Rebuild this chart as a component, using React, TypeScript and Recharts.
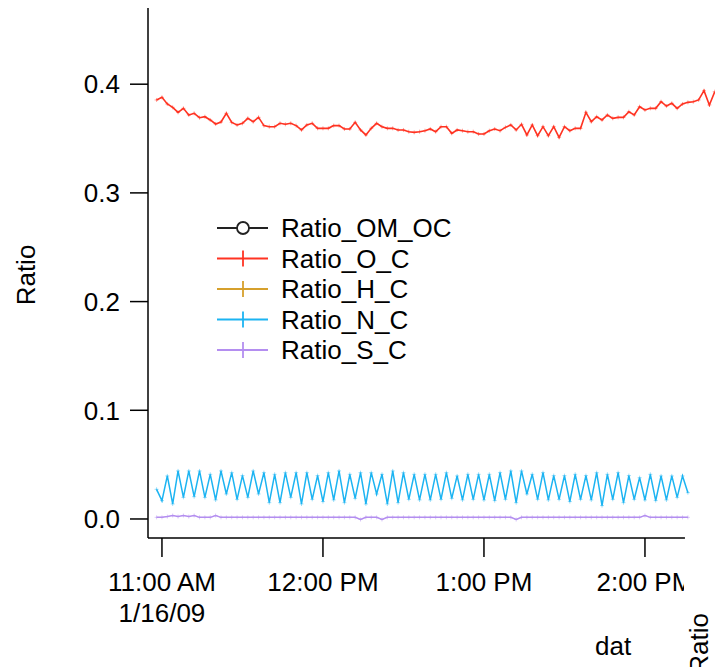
import React from "react";
import { LineChart, Line, XAxis, YAxis, Legend, ReferenceLine } from "recharts";

// minutes after 11:00 AM 1/16/09, sampled every 2 min
const START_MIN = -2;
const STEP_MIN = 2;

const ratioOC = [
  0.3855, 0.3879, 0.3818, 0.3787, 0.3741, 0.3778, 0.3717, 0.3732, 0.3692, 0.3701,
  0.3671, 0.3634, 0.3652, 0.3732, 0.3649, 0.3625, 0.364, 0.3686, 0.3655, 0.3695,
  0.3619, 0.3609, 0.3609, 0.364, 0.3631, 0.364, 0.3619, 0.3579, 0.3625, 0.364,
  0.3594, 0.3594, 0.3594, 0.3619, 0.3619, 0.3588, 0.3588, 0.3649, 0.3579, 0.3533,
  0.3594, 0.364, 0.3609, 0.3594, 0.3594, 0.3579, 0.3579, 0.3563, 0.3557, 0.3563,
  0.3572, 0.3588, 0.3563, 0.3609, 0.3609, 0.3548, 0.3579, 0.3572, 0.3563, 0.3563,
  0.3542, 0.3542, 0.3572, 0.3588, 0.3572, 0.3603, 0.3625, 0.3579, 0.3631, 0.3533,
  0.3625, 0.3526, 0.3609, 0.3526, 0.3609, 0.3511, 0.3609, 0.3572, 0.3594, 0.3594,
  0.3741, 0.3655, 0.3701, 0.3671, 0.3717, 0.3686, 0.3695, 0.3695, 0.3747, 0.3717,
  0.3793, 0.3763, 0.3778, 0.3778, 0.3839, 0.3799, 0.3824, 0.3778, 0.3818, 0.3833,
  0.3839, 0.3855, 0.394, 0.3809, 0.3931,
];

const ratioNC = [
  0.0273, 0.0169, 0.0396, 0.0138, 0.0442, 0.0199, 0.0442, 0.0205, 0.0442, 0.0199,
  0.0411, 0.0175, 0.0442, 0.023, 0.0426, 0.0181, 0.0399, 0.0199, 0.0442, 0.023,
  0.0426, 0.015, 0.0411, 0.015, 0.0426, 0.0199, 0.0426, 0.0138, 0.0426, 0.0181,
  0.0399, 0.016, 0.0426, 0.0175, 0.0442, 0.015, 0.0411, 0.019, 0.0426, 0.0138,
  0.0426, 0.023, 0.0411, 0.0138, 0.0442, 0.015, 0.0426, 0.0181, 0.0411, 0.0175,
  0.0411, 0.0175, 0.0411, 0.0181, 0.0426, 0.019, 0.0396, 0.0175, 0.0411, 0.0181,
  0.0411, 0.0175, 0.0411, 0.0169, 0.0426, 0.0181, 0.0442, 0.015, 0.0442, 0.023,
  0.0411, 0.0181, 0.0426, 0.0175, 0.0399, 0.0181, 0.0399, 0.016, 0.0411, 0.0181,
  0.0399, 0.0175, 0.0426, 0.0123, 0.0411, 0.0181, 0.0426, 0.015, 0.0399, 0.0181,
  0.038, 0.0175, 0.0411, 0.0169, 0.0396, 0.0175, 0.0396, 0.0199, 0.0396, 0.0242,
];

const ratioSC = [
  0.0015, 0.0015, 0.0022, 0.0032, 0.0022, 0.0032, 0.0022, 0.0032, 0.0015, 0.0015,
  0.0015, 0.0032, 0.0015, 0.0015, 0.0015, 0.0015, 0.0015, 0.0015, 0.0015, 0.0015,
  0.0015, 0.0015, 0.0015, 0.0015, 0.0015, 0.0015, 0.0015, 0.0015, 0.0015, 0.0015,
  0.0015, 0.0015, 0.0015, 0.0015, 0.0015, 0.0015, 0.0015, 0.0015, -0.0005, 0.0015,
  0.0015, 0.0015, -0.0005, 0.0015, 0.0015, 0.0015, 0.0015, 0.0015, 0.0015, 0.0015,
  0.0015, 0.0015, 0.0015, 0.0015, 0.0015, 0.0015, 0.0015, 0.0015, 0.0015, 0.0015,
  0.0015, 0.0015, 0.0015, 0.0015, 0.0015, 0.0015, 0.0015, -0.0005, 0.0015, 0.0015,
  0.0015, 0.0015, 0.0015, 0.0015, 0.0015, 0.0015, 0.0015, 0.0015, 0.0015, 0.0015,
  0.0015, 0.0015, 0.0015, 0.0015, 0.0015, 0.0015, 0.0015, 0.0015, 0.0015, 0.0015,
  0.0015, 0.0032, 0.0015, 0.0015, 0.0015, 0.0015, 0.0015, 0.0015, 0.0015, 0.0015,
];

const tickMinutes = [0, 60, 120, 180];
const tickLabels = ["11:00 AM", "12:00 PM", "1:00 PM", "2:00 PM"];
const dateLabel = "1/16/09";
const yTicks = [0, 0.1, 0.2, 0.3, 0.4];

const legendItems = [
  { name: "Ratio_OM_OC", color: "#222222", marker: "circle" },
  { name: "Ratio_O_C", color: "#ff3322", marker: "plus" },
  { name: "Ratio_H_C", color: "#d6a02c", marker: "plus" },
  { name: "Ratio_N_C", color: "#1cb4f2", marker: "plus" },
  { name: "Ratio_S_C", color: "#b48ef0", marker: "plus" },
];

const X_DOMAIN: [number, number] = [-5.2, 206.1];
const X_AXIS_END = 194.9;
const Y_DOMAIN: [number, number] = [-0.0175, 0.4701];

const FONT = '"Liberation Sans", Arial, Helvetica, sans-serif';
const FS = 26;

const data = ratioOC.map((v, i) => ({
  t: START_MIN + i * STEP_MIN,
  oc: v,
  nc: ratioNC[i],
  sc: ratioSC[i],
}));

function PlusDot(props: any) {
  const { cx, cy, stroke } = props;
  if (cx == null || cy == null) {return null;}
  return (
    <path
      d={`M${cx - 2},${cy}H${cx + 2}M${cx},${cy - 2}V${cy + 2}`}
      stroke={stroke}
      strokeWidth={1}
      strokeOpacity={0.45}
      fill="none"
    />
  );
}

function TimeTick(props: any) {
  const { x, y, payload } = props;
  const i = tickMinutes.indexOf(payload.value);
  const clipId = `xtick-clip-${i}`;
  return (
    <g>
      <defs>
        <clipPath id={clipId}>
          <rect x={0} y={0} width={684} height={667} />
        </clipPath>
      </defs>
      <g clipPath={`url(#${clipId})`}>
        <text x={x} y={y + 32} textAnchor="middle" fill="#000" fontSize={FS} fontFamily={FONT}>
          {tickLabels[i]}
        </text>
        {i === 0 && (
          <text x={x} y={y + 63} textAnchor="middle" fill="#000" fontSize={FS} fontFamily={FONT}>
            {dateLabel}
          </text>
        )}
      </g>
    </g>
  );
}

function LegendBox() {
  return (
    <svg width={270} height={160}>
      {legendItems.map((item, i) => {
        const cy = 20 + i * 30.5;
        return (
          <g key={item.name}>
            <line x1={7} x2={58} y1={cy} y2={cy} stroke={item.color} strokeWidth={1.8} />
            {item.marker === "circle" ? (
              <circle cx={33} cy={cy} r={6} fill="#fff" stroke={item.color} strokeWidth={1.8} />
            ) : (
              <line x1={33} x2={33} y1={cy - 8} y2={cy + 8} stroke={item.color} strokeWidth={1.8} />
            )}
            <text x={71} y={cy} dy="0.355em" fill="#000" fontSize={FS} fontFamily={FONT}>
              {item.name}
            </text>
          </g>
        );
      })}
    </svg>
  );
}

export default function App() {
  return (
    <div style={{ position: "absolute", left: 0, top: 0, width: 715, height: 667, background: "#fff", overflow: "hidden" }}>
      <LineChart width={715} height={667} data={data} margin={{ top: 8, right: 0, bottom: 0, left: 0 }}>
        <XAxis
          dataKey="t"
          type="number"
          domain={X_DOMAIN}
          ticks={tickMinutes}
          interval={0}
          height={129}
          axisLine={false}
          tickSize={19}
          tickMargin={2}
          tickLine={{ stroke: "#000", strokeWidth: 1.5 }}
          tick={<TimeTick />}
        />
        <YAxis
          type="number"
          domain={Y_DOMAIN}
          ticks={yTicks}
          interval={0}
          width={148}
          tickSize={18}
          tickMargin={10}
          axisLine={{ stroke: "#000", strokeWidth: 1.5 }}
          tickLine={{ stroke: "#000", strokeWidth: 1.5 }}
          tick={{ fill: "#000", fontSize: FS, fontFamily: FONT }}
          tickFormatter={(v: number) => v.toFixed(1)}
        />
        <ReferenceLine
          segment={[
            { x: X_DOMAIN[0], y: Y_DOMAIN[0] },
            { x: X_AXIS_END, y: Y_DOMAIN[0] },
          ]}
          stroke="#000"
          strokeWidth={1.5}
        />
        <Line dataKey="oc" stroke="#ff3322" strokeWidth={1.6} dot={<PlusDot />} isAnimationActive={false} />
        <Line dataKey="nc" stroke="#1cb4f2" strokeWidth={1.5} dot={<PlusDot />} isAnimationActive={false} />
        <Line dataKey="sc" stroke="#b48ef0" strokeWidth={1.5} dot={<PlusDot />} isAnimationActive={false} />
        <Legend
          layout="vertical"
          align="center"
          verticalAlign="middle"
          wrapperStyle={{ left: 210, top: 208, width: 270, height: 160 }}
          content={() => <LegendBox />}
        />
      </LineChart>
      <svg
        width={715}
        height={667}
        style={{ position: "absolute", left: 0, top: 0, pointerEvents: "none" }}
      >
        <text x={35} y={275} transform="rotate(-90 35 275)" textAnchor="middle" fill="#000" fontSize={FS} fontFamily={FONT}>
          Ratio
        </text>
        <text x={595} y={655} fill="#000" fontSize={FS} fontFamily={FONT}>
          dat
        </text>
        <text x={708} y={613} transform="rotate(-90 708 613)" textAnchor="end" fill="#000" fontSize={FS} fontFamily={FONT}>
          Ratio
        </text>
      </svg>
    </div>
  );
}
